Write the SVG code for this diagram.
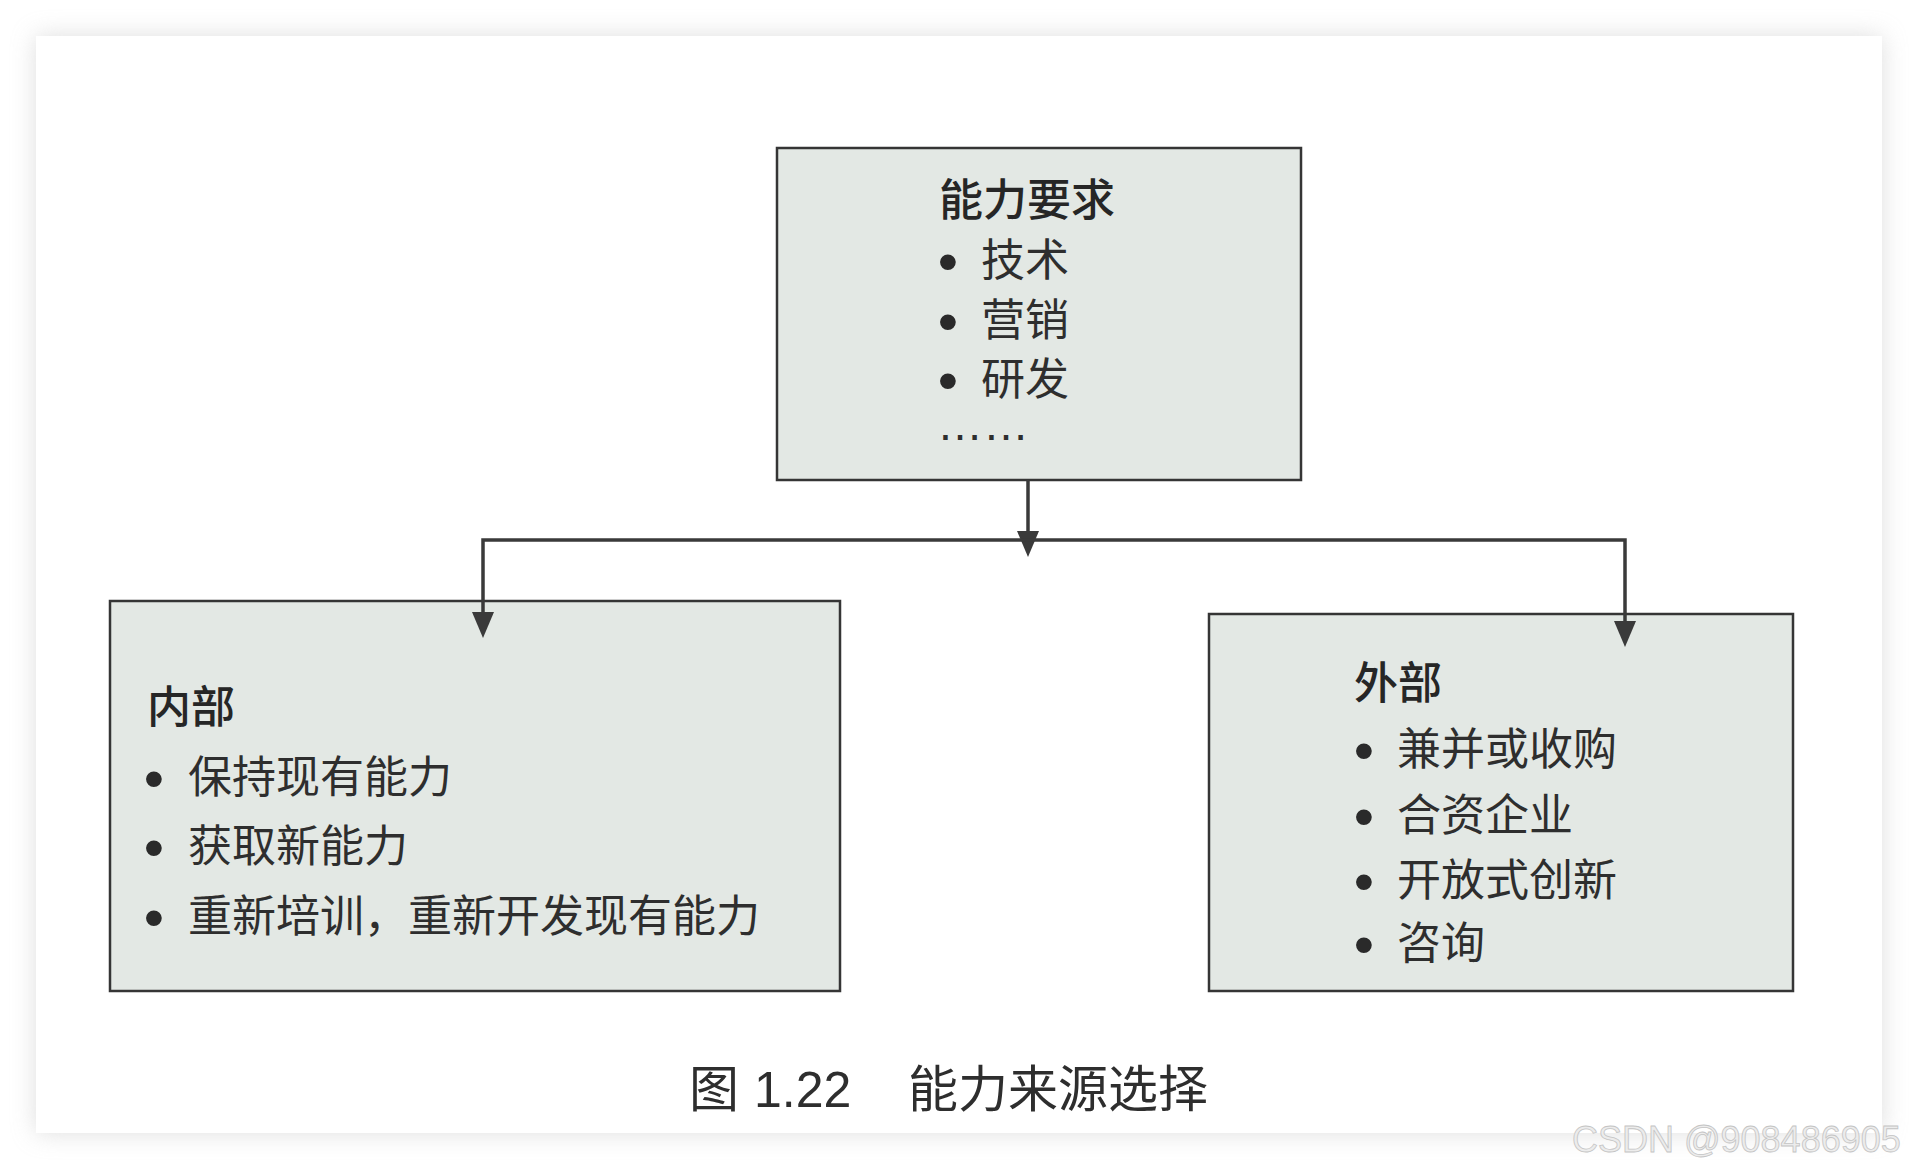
<svg xmlns="http://www.w3.org/2000/svg" width="1918" height="1169" viewBox="0 0 1918 1169">
<defs>
<style>
.box{fill:#e3e8e4;stroke:#353535;stroke-width:2.5}
.t{font-family:"Noto Sans CJK SC","Noto Sans",sans-serif;font-size:44px;fill:#2e2e2e}
.h{font-family:"Noto Sans CJK SC","Noto Sans",sans-serif;font-size:44px;fill:#262626;font-weight:500}
.b{font-family:"Liberation Sans",Arial,sans-serif;font-size:58px;fill:#2a2a2a;text-anchor:middle}
.conn{fill:none;stroke:#3a3a3a;stroke-width:3.5}
.cap{font-size:50px;fill:#2e2e2e}
</style>
<marker id="ah" markerUnits="userSpaceOnUse" markerWidth="26" markerHeight="22" refX="11" refY="11" orient="auto">
<path d="M0,0 L26,11 L0,22 Z" fill="#3a3a3a"/>
</marker>
<filter id="sh" x="-5%" y="-5%" width="110%" height="110%">
<feGaussianBlur stdDeviation="12"/>
</filter>
</defs>
<rect width="1918" height="1169" fill="#ffffff"/>
<rect x="36" y="36" width="1846" height="1097" fill="#c8c8c8" opacity="0.6" filter="url(#sh)"/>
<rect x="36" y="36" width="1846" height="1097" fill="#ffffff"/>

<g id="node-requirements">
<rect class="box" x="777" y="148" width="524" height="332"/>
<text class="h" x="939" y="216">能力要求</text>
<text class="b" x="948" y="281">•</text><text class="t" x="981" y="276">技术</text>
<text class="b" x="948" y="341">•</text><text class="t" x="981" y="336">营销</text>
<text class="b" x="948" y="400">•</text><text class="t" x="981" y="395">研发</text>
<text class="t" x="937" y="440" style="font-family:'Liberation Sans',Arial,sans-serif;font-size:46px">……</text>
</g>

<g id="node-internal">
<rect class="box" x="110" y="601" width="730" height="390"/>
<text class="h" x="147" y="723">内部</text>
<text class="b" x="154" y="798">•</text><text class="t" x="188" y="793">保持现有能力</text>
<text class="b" x="154" y="867">•</text><text class="t" x="188" y="862">获取新能力</text>
<text class="b" x="154" y="937">•</text><text class="t" x="188" y="932">重新培训，重新开发现有能力</text>
</g>

<g id="node-external">
<rect class="box" x="1209" y="614" width="584" height="377"/>
<text class="h" x="1354" y="699">外部</text>
<text class="b" x="1364" y="770">•</text><text class="t" x="1397" y="765">兼并或收购</text>
<text class="b" x="1364" y="836">•</text><text class="t" x="1397" y="831">合资企业</text>
<text class="b" x="1364" y="901">•</text><text class="t" x="1397" y="896">开放式创新</text>
<text class="b" x="1364" y="964">•</text><text class="t" x="1397" y="959">咨询</text>
</g>

<g id="connectors">
<path class="conn" d="M1028,480 L1028,542" marker-end="url(#ah)"/>
<path class="conn" d="M1028,540 H483 V623" marker-end="url(#ah)"/>
<path class="conn" d="M1028,540 H1625 V632" marker-end="url(#ah)"/>
</g>

<g id="caption">
<text class="cap" x="689" y="1107" style="font-family:'Noto Sans CJK SC',sans-serif">图</text>
<text class="cap" x="754" y="1107" style="font-family:'Liberation Sans',Arial,sans-serif">1.22</text>
<text class="cap" x="908" y="1107" style="font-family:'Noto Sans CJK SC',sans-serif">能力来源选择</text>
</g>

<text x="1572" y="1152" style="font-family:'Liberation Sans',Arial,sans-serif;font-size:36px;fill:#ececec;stroke:#c4c4c4;stroke-width:0.8">CSDN @908486905</text>
</svg>
